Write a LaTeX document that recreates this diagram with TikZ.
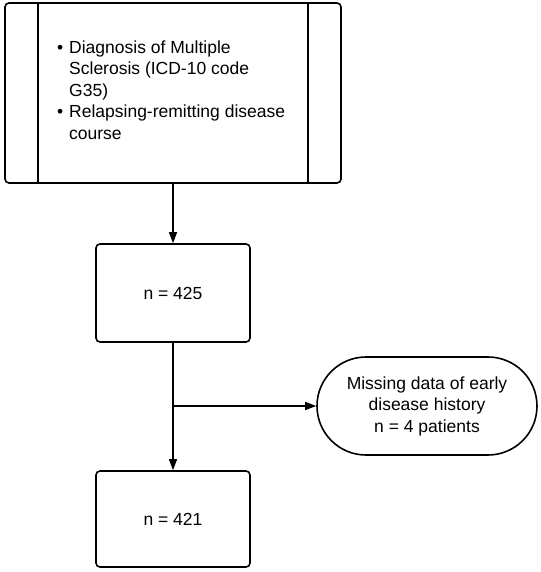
\documentclass[tikz,border=0pt]{standalone}
\usepackage{fontspec}
\setmainfont{Liberation Sans}
\usetikzlibrary{arrows.meta}
\begin{document}
\begin{tikzpicture}[x=1pt,y=-1pt,
  txt/.style={font=\fontsize{17.5}{21.5}\selectfont},
  box/.style={draw, line width=1.6pt, rounded corners=4pt, inner sep=0pt, txt, align=center},
  inner/.style={line width=1.6pt},
  conn/.style={line width=1.2pt, -{Triangle[length=11pt,width=8pt]}},
  ]
\useasboundingbox (0,0) rectangle (540,572);
\node[box, minimum width=336pt, minimum height=180pt] (top) at (173,93) {};
\draw[inner] ([xshift=34pt]top.north west) -- ([xshift=34pt]top.south west);
\draw[inner] ([xshift=-34pt]top.north east) -- ([xshift=-34pt]top.south east);
\node[txt, anchor=west, align=left, inner sep=0pt] (toptext) at (57,90)
  {\makebox[12pt][l]{•}Diagnosis of Multiple\\
   \hspace*{12pt}Sclerosis (ICD-10 code\\
   \hspace*{12pt}G35)\\
   \makebox[12pt][l]{•}Relapsing-remitting disease\\
   \hspace*{12pt}course};
\node[box, minimum width=154pt, minimum height=98pt] (a) at (173,293) {n = 425};
\node[box, minimum width=154pt, minimum height=96pt] (b) at (173,519) {n = 421};
\node[box, rounded corners=49pt, minimum width=220pt, minimum height=98pt] (ex) at (427,406)
  {Missing data of early\\disease history\\n = 4 patients};
\draw[conn] (top.south) -- (a.north);
\draw[conn] (a.south) -- (b.north);
\coordinate (br) at (173,406);
\draw[conn] (br) -- (ex.west);
\end{tikzpicture}
\end{document}
